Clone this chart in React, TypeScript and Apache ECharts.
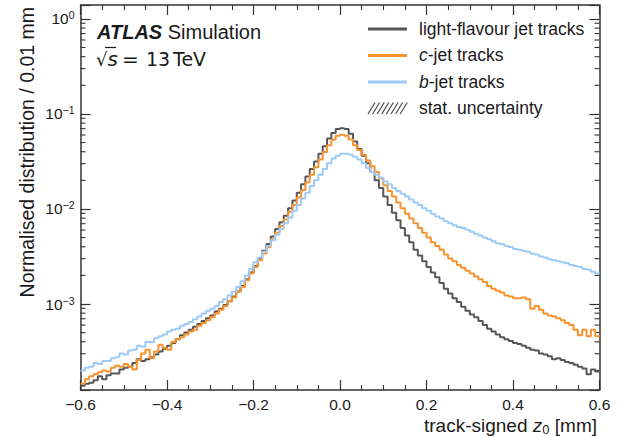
import React, { useEffect, useRef } from "react";
import * as echarts from "echarts";

// bin edges of the 0.01 mm histogram, from -0.6 to 0.6
const binEdges: number[] = Array.from({ length: 121 }, (_, i) => +(-0.6 + i * 0.01).toFixed(2));

const lightJet = [
  1.38e-4, 1.45e-4, 1.48e-4, 1.58e-4, 1.74e-4, 1.62e-4, 1.78e-4, 1.86e-4, 1.86e-4, 2.04e-4,
  2.14e-4, 2.19e-4, 2.40e-4, 2.63e-4, 2.51e-4, 2.63e-4, 2.75e-4, 2.95e-4, 3.16e-4, 3.39e-4,
  3.63e-4, 3.89e-4, 4.27e-4, 4.68e-4, 5.01e-4, 5.37e-4, 5.75e-4, 6.17e-4, 6.61e-4, 7.08e-4,
  7.59e-4, 8.32e-4, 8.91e-4, 9.77e-4, 1.07e-3, 1.20e-3, 1.35e-3, 1.55e-3, 1.82e-3, 2.14e-3,
  2.51e-3, 3.02e-3, 3.63e-3, 4.27e-3, 5.13e-3, 6.17e-3, 7.24e-3, 8.51e-3, 1.02e-2, 1.23e-2,
  1.48e-2, 1.82e-2, 2.19e-2, 2.63e-2, 3.16e-2, 3.80e-2, 4.57e-2, 5.50e-2, 6.31e-2, 6.92e-2,
  7.08e-2, 6.92e-2, 6.17e-2, 5.13e-2, 4.27e-2, 3.63e-2, 3.02e-2, 2.45e-2, 2.00e-2, 1.66e-2,
  1.35e-2, 1.10e-2, 9.12e-3, 7.59e-3, 6.31e-3, 5.25e-3, 4.47e-3, 3.72e-3, 3.24e-3, 2.82e-3,
  2.45e-3, 2.14e-3, 1.91e-3, 1.66e-3, 1.45e-3, 1.29e-3, 1.15e-3, 1.05e-3, 9.33e-4, 8.51e-4,
  7.76e-4, 7.24e-4, 6.61e-4, 6.03e-4, 5.50e-4, 5.13e-4, 4.79e-4, 4.47e-4, 4.27e-4, 4.07e-4,
  3.89e-4, 3.80e-4, 3.63e-4, 3.47e-4, 3.31e-4, 3.24e-4, 3.02e-4, 2.95e-4, 2.82e-4, 2.63e-4,
  2.69e-4, 2.57e-4, 2.45e-4, 2.40e-4, 2.29e-4, 2.19e-4, 2.09e-4, 1.82e-4, 2.04e-4, 1.95e-4,
];

const cJet = [
  1.45e-4, 1.62e-4, 1.74e-4, 1.82e-4, 1.91e-4, 2.00e-4, 1.95e-4, 2.14e-4, 2.24e-4, 2.19e-4,
  2.34e-4, 2.19e-4, 2.04e-4, 2.57e-4, 3.02e-4, 3.31e-4, 2.69e-4, 3.16e-4, 3.72e-4, 3.47e-4,
  3.31e-4, 3.98e-4, 4.27e-4, 4.47e-4, 4.79e-4, 5.13e-4, 5.37e-4, 5.89e-4, 6.31e-4, 6.76e-4,
  7.24e-4, 7.94e-4, 8.71e-4, 9.55e-4, 1.07e-3, 1.17e-3, 1.35e-3, 1.51e-3, 1.78e-3, 2.09e-3,
  2.45e-3, 2.88e-3, 3.39e-3, 3.98e-3, 4.79e-3, 5.62e-3, 6.61e-3, 7.76e-3, 9.33e-3, 1.10e-2,
  1.32e-2, 1.58e-2, 1.91e-2, 2.29e-2, 2.75e-2, 3.31e-2, 3.98e-2, 4.68e-2, 5.37e-2, 5.89e-2,
  6.03e-2, 5.89e-2, 5.37e-2, 4.68e-2, 4.17e-2, 3.72e-2, 3.24e-2, 2.82e-2, 2.45e-2, 2.09e-2,
  1.78e-2, 1.55e-2, 1.35e-2, 1.17e-2, 1.02e-2, 8.91e-3, 7.94e-3, 7.08e-3, 6.31e-3, 5.62e-3,
  5.01e-3, 4.47e-3, 4.07e-3, 3.72e-3, 3.31e-3, 3.02e-3, 2.82e-3, 2.57e-3, 2.40e-3, 2.24e-3,
  2.09e-3, 1.95e-3, 1.82e-3, 1.70e-3, 1.55e-3, 1.45e-3, 1.38e-3, 1.32e-3, 1.23e-3, 1.20e-3,
  1.15e-3, 1.15e-3, 1.17e-3, 1.12e-3, 8.91e-4, 9.55e-4, 8.71e-4, 7.94e-4, 7.59e-4, 7.41e-4,
  7.08e-4, 6.76e-4, 6.31e-4, 6.03e-4, 5.37e-4, 4.68e-4, 5.37e-4, 4.57e-4, 5.37e-4, 4.57e-4,
];

const bJet = [
  2.00e-4, 2.14e-4, 2.19e-4, 2.40e-4, 2.34e-4, 2.51e-4, 2.51e-4, 2.69e-4, 2.75e-4, 3.02e-4,
  2.95e-4, 3.24e-4, 3.31e-4, 3.63e-4, 3.55e-4, 3.98e-4, 3.98e-4, 4.37e-4, 4.57e-4, 4.79e-4,
  5.13e-4, 5.37e-4, 5.50e-4, 5.89e-4, 6.17e-4, 6.46e-4, 6.92e-4, 7.41e-4, 7.94e-4, 8.51e-4,
  8.91e-4, 9.55e-4, 1.05e-3, 1.12e-3, 1.23e-3, 1.35e-3, 1.51e-3, 1.74e-3, 2.00e-3, 2.34e-3,
  2.75e-3, 3.09e-3, 3.55e-3, 4.07e-3, 4.68e-3, 5.37e-3, 6.17e-3, 7.08e-3, 8.13e-3, 9.55e-3,
  1.10e-2, 1.29e-2, 1.48e-2, 1.74e-2, 2.00e-2, 2.29e-2, 2.63e-2, 3.02e-2, 3.39e-2, 3.63e-2,
  3.80e-2, 3.80e-2, 3.72e-2, 3.55e-2, 3.31e-2, 3.02e-2, 2.69e-2, 2.45e-2, 2.29e-2, 2.14e-2,
  1.95e-2, 1.82e-2, 1.66e-2, 1.55e-2, 1.45e-2, 1.35e-2, 1.26e-2, 1.17e-2, 1.10e-2, 1.02e-2,
  9.55e-3, 8.91e-3, 8.32e-3, 7.94e-3, 7.41e-3, 7.08e-3, 6.76e-3, 6.46e-3, 6.31e-3, 6.03e-3,
  5.75e-3, 5.50e-3, 5.25e-3, 5.01e-3, 4.79e-3, 4.57e-3, 4.37e-3, 4.27e-3, 4.07e-3, 3.98e-3,
  3.80e-3, 3.72e-3, 3.63e-3, 3.55e-3, 3.39e-3, 3.31e-3, 3.16e-3, 3.09e-3, 2.95e-3, 2.88e-3,
  2.82e-3, 2.75e-3, 2.69e-3, 2.57e-3, 2.51e-3, 2.45e-3, 2.34e-3, 2.29e-3, 2.19e-3, 2.09e-3,
];

const yMinorTicks = [
  2e-4, 3e-4, 4e-4, 5e-4, 6e-4, 7e-4, 8e-4, 9e-4,
  2e-3, 3e-3, 4e-3, 5e-3, 6e-3, 7e-3, 8e-3, 9e-3,
  2e-2, 3e-2, 4e-2, 5e-2, 6e-2, 7e-2, 8e-2, 9e-2,
  2e-1, 3e-1, 4e-1, 5e-1, 6e-1, 7e-1, 8e-1, 9e-1,
];

const seriesNames = ["light-flavour jet tracks", "c-jet tracks", "b-jet tracks"];
const uncertaintyLabel = "stat. uncertainty";
const yTitle = "Normalised distribution / 0.01 mm";

const X_MIN = -0.6;
const X_MAX = 0.6;
const Y_MIN = 1.245e-4;
const Y_MAX = 1.4;

const FF = "'Liberation Sans', Arial, Helvetica, sans-serif";
const MATH = "'DejaVu Sans', sans-serif";
const TXT = "#1a1a1a";
const AX = "#333333";
const C_LIGHT = "#575757";
const C_C = "#f7932f";
const C_B = "#9dcbf5";

function stepData(values: number[]) {
  const d: number[][] = values.map((v, i) => [binEdges[i], v]);
  d.push([binEdges[values.length], values[values.length - 1]]);
  return d;
}

function xLabel(v: number) {
  if (Math.abs(v) < 1e-9) return "0.0";
  const s = Math.abs(v).toFixed(1);
  return v < 0 ? "\u2212" + s : s;
}

function yLabel(v: number) {
  const e = Math.log10(v);
  const r = Math.round(e);
  if (Math.abs(e - r) > 1e-6) return "";
  const exp = r < 0 ? "\u2212" + -r : String(r);
  return `{b|10}{s|${exp}}`;
}

export default function App() {
  const ref = useRef<HTMLDivElement>(null);
  useEffect(() => {
    if (!ref.current) return;
    const chart = echarts.init(ref.current, null, { renderer: "svg" });

    const lineSeries = (name: string, values: number[], color: string) => ({
      type: "line",
      name,
      data: stepData(values),
      step: "end",
      showSymbol: false,
      symbol: "none",
      xAxisIndex: 0,
      yAxisIndex: 0,
      lineStyle: { color, width: 2 },
      itemStyle: { color },
      silent: true,
    });

    const text = (x: number, y: number, str: string, extra: any = {}, elExtra: any = {}) => ({
      type: "text",
      x,
      y,
      ...elExtra,
      style: {
        text: str,
        fill: TXT,
        fontFamily: FF,
        fontSize: 17.5,
        align: "left",
        verticalAlign: "middle",
        textAlign: "left",
        textVerticalAlign: "middle",
        ...extra,
      },
    });

    const legendRows = [28.5, 55, 81.5, 108];
    const legendColors = [C_LIGHT, C_C, C_B];
    const graphic: any[] = [];

    // ATLAS label
    graphic.push(
      text(97, 32, "{a|ATLAS}{b| Simulation}", {
        rich: {
          a: { fontSize: 20, fontWeight: "bold", fontStyle: "italic", fontFamily: FF, fill: TXT },
          b: { fontSize: 20, fontFamily: FF, fill: TXT },
        },
      })
    );
    graphic.push(
      text(96, 59, "{r|\u221A}{s|s}", {
        rich: {
          r: { fontFamily: MATH, fontSize: 18, fill: TXT },
          s: { fontFamily: MATH, fontSize: 20, fontStyle: "italic", fill: TXT },
        },
      })
    );
    graphic.push({
      type: "line",
      shape: { x1: 105, y1: 47.5, x2: 116, y2: 47.5 },
      style: { stroke: TXT, lineWidth: 1.2 },
    });
    graphic.push(text(122, 59, "=", { fontFamily: MATH, fontSize: 20 }));
    graphic.push(text(146, 59, "13", { fontFamily: MATH, fontSize: 19 }));
    graphic.push(text(173, 59, "TeV", { fontFamily: MATH, fontSize: 19 }));

    // legend
    for (let i = 0; i < 3; i++) {
      graphic.push({
        type: "line",
        shape: { x1: 368, y1: legendRows[i] + 0.5, x2: 407, y2: legendRows[i] + 0.5 },
        style: { stroke: legendColors[i], lineWidth: 3 },
      });
    }
    graphic.push(text(419, legendRows[0], seriesNames[0]));
    graphic.push(
      text(419, legendRows[1], "{i|c}{n|-jet tracks}", {
        rich: {
          i: { fontStyle: "italic", fontSize: 17.5, fontFamily: FF, fill: TXT },
          n: { fontSize: 17.5, fontFamily: FF, fill: TXT },
        },
      })
    );
    graphic.push(
      text(419, legendRows[2], "{i|b}{n|-jet tracks}", {
        rich: {
          i: { fontStyle: "italic", fontSize: 17.5, fontFamily: FF, fill: TXT },
          n: { fontSize: 17.5, fontFamily: FF, fill: TXT },
        },
      })
    );
    for (let k = 0; k < 8; k++) {
      const x0 = 368 + k * 4.6;
      graphic.push({
        type: "line",
        shape: { x1: x0, y1: 114, x2: x0 + 7, y2: 102.5 },
        style: { stroke: "#555", lineWidth: 1.3 },
      });
    }
    graphic.push(text(419, legendRows[3], uncertaintyLabel));

    // axis titles
    graphic.push(
      text(597, 425, "{n|track-signed }{z|z}{s|0}{n| [mm]}", {
        align: "right",
        textAlign: "right",
        rich: {
          n: { fontSize: 19, fontFamily: FF, fill: TXT, lineHeight: 22 },
          z: { fontSize: 19, fontFamily: FF, fontStyle: "italic", fill: TXT, lineHeight: 22 },
          s: { fontSize: 13, fontFamily: FF, fill: TXT, lineHeight: 11, verticalAlign: "bottom" },
        },
      })
    );
    graphic.push(
      text(27, 7, yTitle, { fontSize: 19.5, align: "right", textAlign: "right" }, { rotation: Math.PI / 2 })
    );

    const baseX = {
      type: "value",
      min: X_MIN,
      max: X_MAX,
      interval: 0.2,
      splitLine: { show: false },
      axisLine: { show: true, onZero: false, lineStyle: { color: AX, width: 1.5 } },
      axisTick: { show: true, inside: true, length: 10, lineStyle: { color: AX, width: 1.2 } },
      minorTick: { show: true, splitNumber: 4, length: 5, lineStyle: { color: AX, width: 1.1 } },
      minorSplitLine: { show: false },
    };
    const baseY = {
      type: "log",
      logBase: 10,
      min: Y_MIN,
      max: Y_MAX,
      splitLine: { show: false },
      axisLine: { show: true, onZero: false, lineStyle: { color: AX, width: 1.5 } },
      axisTick: { show: true, inside: true, length: 10, lineStyle: { color: AX, width: 1.2 } },
    };

    chart.setOption({
      animation: false,
      backgroundColor: "#ffffff",
      grid: { left: 80.5, right: 21.5, top: 5, bottom: 47, containLabel: false },
      xAxis: [
        {
          ...baseX,
          position: "bottom",
          axisLabel: {
            show: true,
            formatter: xLabel,
            color: TXT,
            fontSize: 15.5,
            fontFamily: FF,
            margin: 6,
          },
        },
        { ...baseX, position: "top", axisLabel: { show: false } },
      ],
      yAxis: [
        {
          ...baseY,
          position: "left",
          axisLabel: {
            show: true,
            formatter: yLabel,
            margin: 6,
            rich: {
              b: { fontSize: 15.5, fontFamily: FF, color: TXT, lineHeight: 18 },
              s: { fontSize: 10.5, fontFamily: FF, color: TXT, lineHeight: 9, verticalAlign: "top" },
            },
          },
        },
        { ...baseY, position: "right", axisLabel: { show: false } },
      ],
      series: [
        lineSeries(seriesNames[0], lightJet, C_LIGHT),
        lineSeries(seriesNames[1], cJet, C_C),
        lineSeries(seriesNames[2], bJet, C_B),
        {
          type: "custom",
          name: "y minor ticks",
          xAxisIndex: 0,
          yAxisIndex: 0,
          silent: true,
          clip: false,
          data: yMinorTicks.map((v) => [0, v]),
          encode: { x: 0, y: 1 },
          renderItem: (_p: any, api: any) => {
            const v = api.value(1);
            const pl = api.coord([X_MIN, v]);
            const pr = api.coord([X_MAX, v]);
            return {
              type: "group",
              children: [
                {
                  type: "line",
                  shape: { x1: pl[0], y1: pl[1], x2: pl[0] + 5, y2: pl[1] },
                  style: { stroke: AX, lineWidth: 1.1 },
                },
                {
                  type: "line",
                  shape: { x1: pr[0] - 5, y1: pr[1], x2: pr[0], y2: pr[1] },
                  style: { stroke: AX, lineWidth: 1.1 },
                },
              ],
            };
          },
        },
      ],
      graphic,
    });

    return () => chart.dispose();
  }, []);

  return (
    <div
      ref={ref}
      style={{ position: "absolute", left: 0, top: 0, width: 621, height: 437, background: "#fff" }}
    />
  );
}
